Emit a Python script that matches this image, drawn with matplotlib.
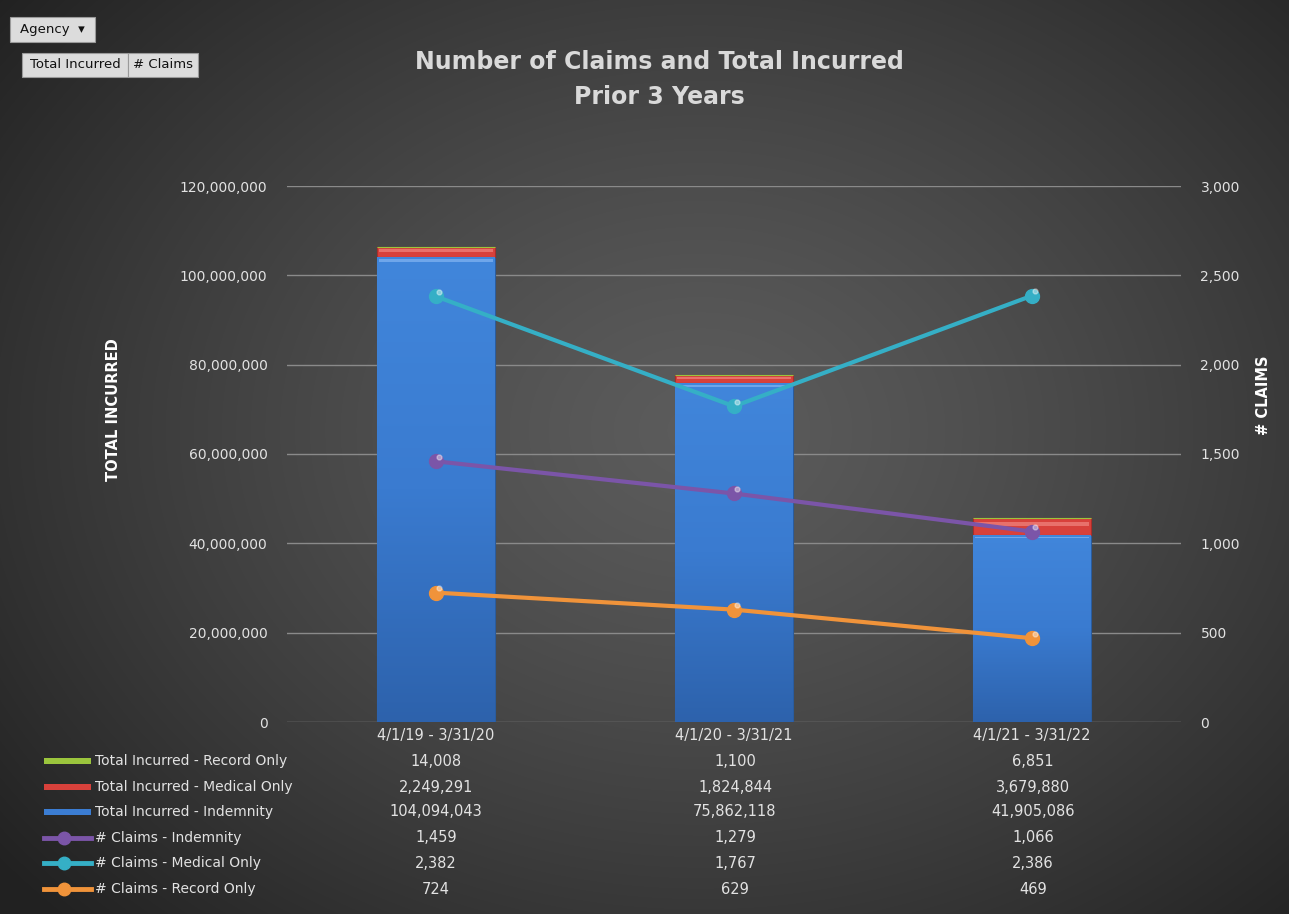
import matplotlib
matplotlib.use("Agg")
import matplotlib.pyplot as plt
from matplotlib.patches import Rectangle
from matplotlib.lines import Line2D
from matplotlib.colors import LinearSegmentedColormap
import numpy as np

# data
periods = ["4/1/19 - 3/31/20", "4/1/20 - 3/31/21", "4/1/21 - 3/31/22"]
inc_record = [14008, 1100, 6851]
inc_medical = [2249291, 1824844, 3679880]
inc_indemnity = [104094043, 75862118, 41905086]
cl_indemnity = [1459, 1279, 1066]
cl_medical = [2382, 1767, 2386]
cl_record = [724, 629, 469]

row_labels = ["Total Incurred - Record Only", "Total Incurred - Medical Only",
              "Total Incurred - Indemnity", "# Claims - Indemnity",
              "# Claims - Medical Only", "# Claims - Record Only"]
row_values = [inc_record, inc_medical, inc_indemnity, cl_indemnity, cl_medical, cl_record]

c_blue = "#3B7DD3"
c_red = "#D8413B"
c_green = "#9BC53D"
c_purple = "#7B55A8"
c_teal = "#35AFC6"
c_orange = "#F0933A"
row_colors = [c_green, c_red, c_blue, c_purple, c_teal, c_orange]
txt = "#E2E2E2"
grid_c = "#8A8A8A"

W, H = 1289, 914
fig = plt.figure(figsize=(W / 100, H / 100), dpi=100)

# background radial gradient
bg = fig.add_axes([0, 0, 1, 1], zorder=-10)
yy, xx = np.mgrid[0:H, 0:W]
r = np.sqrt(((xx - 700) / 900.0) ** 2 + ((yy - 430) / 700.0) ** 2)
r = np.clip(r, 0, 1)
val = 0.36 - 0.23 * r ** 1.3
bg.imshow(np.dstack([val, val, val]), extent=[0, W, H, 0], aspect="auto")
bg.set_xlim(0, W)
bg.set_ylim(H, 0)
bg.axis("off")

def fx(px):
    return px / W

def fy(py):
    return 1 - py / H

ax = fig.add_axes([fx(287), fy(722), fx(1181) - fx(287), fy(186) - fy(722)])
ax.set_facecolor("none")
x = np.arange(len(periods))
bw = 0.395
ind = np.array(inc_indemnity)
med = np.array(inc_medical)
rec = np.array(inc_record)
blue_bars = ax.bar(x, ind, bw, color=c_blue, edgecolor="#2A5C9E", linewidth=0.8, zorder=3)
ax.bar(x, med, bw, bottom=ind, color=c_red, edgecolor="#A82E2A", linewidth=0.8, zorder=3)
ax.bar(x, rec, bw, bottom=ind + med, color=c_green, edgecolor=c_green, linewidth=0.8, zorder=3)

# vertical shading inside the blue bars (lighter top, darker bottom)
blue_cmap = LinearSegmentedColormap.from_list("bl", ["#2D62AC", "#3A7BD0", "#4186DB"])
grad = np.linspace(0, 1, 256).reshape(-1, 1)
for b in blue_bars:
    x0, w, h = b.get_x(), b.get_width(), b.get_height()
    im = ax.imshow(grad, cmap=blue_cmap, origin="lower", aspect="auto",
                   extent=[x0, x0 + w, 0, h], zorder=3.5)
    im.set_clip_path(b)

# light top highlight on bars
ax.bar(x, ind * 0.006, bw * 0.97, bottom=ind - ind * 0.006 - 400000, color="#6FA6EA", linewidth=0, zorder=4)
ax.bar(x, med * 0.25, bw * 0.97, bottom=ind + med * 0.55, color="#E8716B", linewidth=0, zorder=4)

ax.set_xlim(-0.5, 2.5)
ax.set_ylim(0, 120000000)
ax.set_yticks(np.arange(0, 120000001, 20000000))
ax.yaxis.set_major_formatter(matplotlib.ticker.FuncFormatter(lambda v, p: f"{int(v):,}"))
ax.grid(axis="y", color=grid_c, linewidth=1, zorder=0)
ax.set_axisbelow(True)
for s in ax.spines.values():
    s.set_visible(False)
ax.set_xticks(x)
ax.set_xticklabels(periods)
ax.tick_params(axis="y", length=0, pad=14, labelsize=10, labelcolor=txt)
ax.tick_params(axis="x", length=0, pad=4, labelsize=10.5, labelcolor=txt)
ax.set_ylabel("TOTAL INCURRED", color="white", fontsize=10.5, fontweight="bold")
ax.yaxis.set_label_coords(-0.186, 0.582)

ax2 = ax.twinx()
ax2.set_ylim(0, 3000)
ax2.set_yticks(np.arange(0, 3001, 500))
ax2.yaxis.set_major_formatter(matplotlib.ticker.FuncFormatter(lambda v, p: f"{int(v):,}"))
for s in ax2.spines.values():
    s.set_visible(False)
ax2.tick_params(axis="y", length=0, pad=14, labelsize=10, labelcolor=txt)
ax2.set_ylabel("# CLAIMS", color="white", fontsize=10.5, fontweight="bold")
ax2.yaxis.set_label_coords(1.084, 0.61)

for vals, col in [(cl_indemnity, c_purple), (cl_medical, c_teal), (cl_record, c_orange)]:
    ax2.plot(x, vals, color=col, linewidth=3, marker="o", markersize=10,
             markeredgecolor=col, markerfacecolor=col, zorder=5)
    ax2.plot(x + 0.01, np.array(vals) + 25, linestyle="none", marker="o", markersize=3.5,
             color="white", alpha=0.4, zorder=6)

# title
fig.text(fx(659), fy(62), "Number of Claims and Total Incurred", ha="center", va="center",
         fontsize=17, fontweight="bold", color="#D9D9D9")
fig.text(fx(659), fy(97), "Prior 3 Years", ha="center", va="center",
         fontsize=17, fontweight="bold", color="#D9D9D9")

# buttons
def button(x0, y0, x1, y1, label):
    fig.patches.append(Rectangle((fx(x0), fy(y1)), fx(x1) - fx(x0), fy(y0) - fy(y1),
                                 transform=fig.transFigure, facecolor="#DCDCDC",
                                 edgecolor="#9A9A9A", linewidth=0.8))
    fig.text(fx((x0 + x1) / 2), fy((y0 + y1) / 2), label, ha="center", va="center",
             fontsize=9.5, color="#111111")

button(10, 17, 95, 42, "Agency  \u25be")
button(22, 53, 128, 77, "Total Incurred")
button(128, 53, 198, 77, "# Claims")

# data table
row_y = [761, 787, 812, 838, 863, 889]
col_x = [436, 735, 1033]
for i, (lab, vals, col) in enumerate(zip(row_labels, row_values, row_colors)):
    y = fy(row_y[i])
    if i < 3:
        fig.patches.append(Rectangle((fx(44), y - 3 / H), fx(91) - fx(44), 6 / H,
                                     transform=fig.transFigure, facecolor=col,
                                     edgecolor="none"))
    else:
        fig.lines.append(Line2D([fx(44), fx(91)], [y, y], transform=fig.transFigure,
                                color=col, linewidth=3.5))
        fig.lines.append(Line2D([fx(64)], [y], transform=fig.transFigure, color=col,
                                marker="o", markersize=9, linestyle="none"))
    fig.text(fx(95), y, lab, ha="left", va="center", fontsize=10, color=txt)
    for cx, v in zip(col_x, vals):
        fig.text(fx(cx), y, f"{v:,}", ha="center", va="center", fontsize=10.5, color=txt)

fig.savefig("out.png", dpi=100)
